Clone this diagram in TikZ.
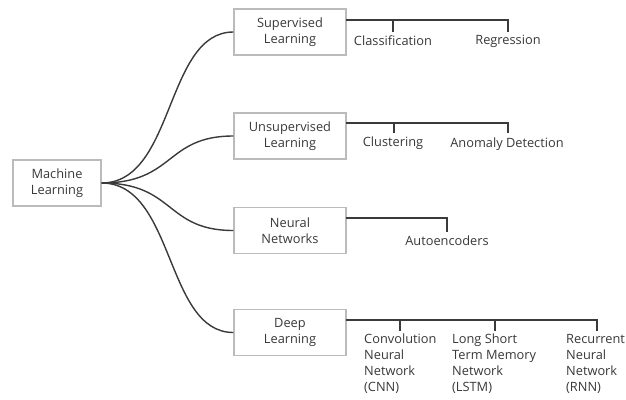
\documentclass[tikz,border=0pt]{standalone}
\usepackage{fontspec}
\setmainfont{Open Sans}
\definecolor{txt}{HTML}{383838}
\definecolor{boxc}{HTML}{BBBBBB}
\definecolor{linec}{HTML}{3A3A3A}
\begin{document}
\begin{tikzpicture}[x=1pt,y=-1pt,
  box/.style={draw=boxc, line width=1.2pt, minimum width=112pt, minimum height=46pt, align=center, text=txt, inner sep=0pt, font=\fontsize{12.8}{16}\selectfont},
  lbl/.style={text=txt, inner sep=0pt, font=\fontsize{12.8}{16}\selectfont},
  mlbl/.style={text=txt, inner sep=0pt, align=left, anchor=north west, font=\fontsize{12.8}{16}\selectfont},
  curve/.style={draw=linec, line width=1.4pt},
  br/.style={draw=linec, line width=1.4pt}]
\useasboundingbox (0,0) rectangle (626,399);
\node[box, minimum width=88pt] (ml) at (57,183) {Machine\\Learning};
\node[box] (sl) at (290,32) {Supervised\\Learning};
\node[box] (ul) at (290,136) {Unsupervised\\Learning};
\node[box] (nn) at (290,230.5) {Neural\\Networks};
\node[box] (dl) at (290,332.5) {Deep\\Learning};
% curves
\draw[curve] (ml.east) .. controls (175,183) and (165,32) .. (sl.west);
\draw[curve] (ml.east) .. controls (175,183) and (165,136) .. (ul.west);
\draw[curve] (ml.east) .. controls (175,183) and (165,230.5) .. (nn.west);
\draw[curve] (ml.east) .. controls (175,183) and (165,332.5) .. (dl.west);
% supervised
\coordinate (s0) at (346,20);
\coordinate (s1) at (393,20);
\coordinate (s2) at (508,20);
\node[lbl] (cls) at (393,41) {Classification};
\node[lbl] (reg) at (508,41) {Regression};
\draw[br] (s0) -- (s2) -- (508,32);
\draw[br] (s1) -- (393,32);
% unsupervised
\coordinate (u0) at (346,123);
\coordinate (u1) at (394,123);
\coordinate (u2) at (508,123);
\node[lbl] (clu) at (393,143.5) {Clustering};
\node[lbl] (ano) at (507,144) {Anomaly Detection};
\draw[br] (u0) -- (u2) -- (508,133);
\draw[br] (u1) -- (394,133);
% neural
\coordinate (n0) at (346,218);
\coordinate (n1) at (447,218);
\node[lbl] (ae) at (447,241) {Autoencoders};
\draw[br] (n0) -- (n1) -- (447,232);
% deep
\coordinate (d0) at (346,320);
\coordinate (d1) at (400,320);
\coordinate (d2) at (495,320);
\coordinate (d3) at (597,320);
\node[mlbl] (cnn) at (364,334) {Convolution\\Neural\\Network\\(CNN)};
\node[mlbl] (lstm) at (452,334) {Long Short\\Term Memory\\Network\\(LSTM)};
\node[mlbl] (rnn) at (566,334) {Recurrent\\Neural\\Network\\(RNN)};
\draw[br] (d0) -- (d3) -- (597,331);
\draw[br] (d1) -- (400,331);
\draw[br] (d2) -- (495,331);
\end{tikzpicture}
\end{document}
